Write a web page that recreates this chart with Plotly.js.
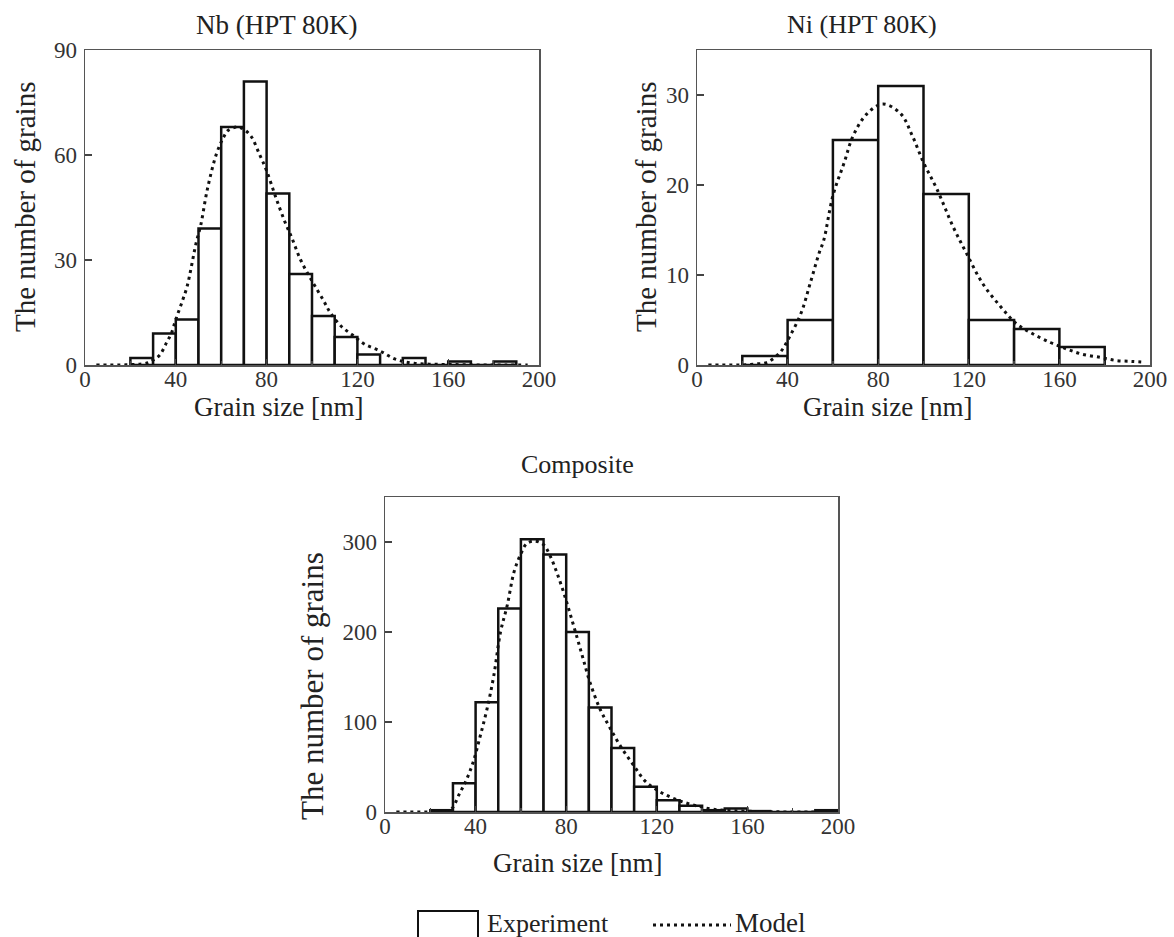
<!DOCTYPE html>
<html>
<head>
<meta charset="utf-8">
<script src="https://cdn.plot.ly/plotly-3.0.1.min.js"></script>
<style>html,body{margin:0;padding:0;background:#fff}#chart{width:1174px;height:937px}</style>
</head>
<body>
<div id="chart"></div>
<script>
// ---------- data ----------
const nbBinStart = [20,30,40,50,60,70,80,90,100,110,120,130,140,150,160,170,180];
const nbCounts   = [2,9,13,39,68,81,49,26,14,8,3,0,2,0,1,0,1];
const nbBinWidth = 10;
const nbModelX = [5,10,15,20,25,28,30,33,36,38,40,43,45,49,51,54,58,61,63,67,70,73,77,80,84,88,91,95,100,105,108,113,118,123,130,137,145,155,165,175,185,195];
const nbModelY = [0,0,0,0.1,0.3,0.7,1.4,2.9,6.5,9,13,18.5,22.5,35,40,50.5,60.5,65,67,68,67.3,65.5,60,55.5,48,41,36.5,30,24,18.5,15,11,8.5,6,4,1.6,0.5,0.2,0.1,0,0,0];

const niBinStart = [20,40,60,80,100,120,140,160];
const niCounts   = [1,5,25,31,19,5,4,2];
const niBinWidth = 20;
const niModelX = [5,10,15,20,25,31,37,41,46,50,54,56,60,65,69,75,82,90,95,100,106,113,119,126,134,141,148,156,163,170,178,185,192,198];
const niModelY = [0,0,0,0,0.1,0.3,1.5,3.2,5.8,9.1,12.5,13.9,18.8,22.5,25.5,27.9,29,27.9,25.5,22.5,19.5,15.4,12.4,9.1,6.5,4.6,3.5,2.5,1.8,1.2,0.85,0.5,0.4,0.3];

const coBinStart = [20,30,40,50,60,70,80,90,100,110,120,130,140,150,160,170,180,190];
const coCounts   = [2,32,122,226,303,286,200,116,71,28,13,7,2,4,1,0,0,2];
const coBinWidth = 10;
const coModelX = [5,10,15,20,25,29,33,36,39,42,45,48,51,54,57,60,62.5,66,70,73,76,79,82,85,87.5,90.5,95,99,104,110,115,121,127,133,139,145,154,167,180,195];
const coModelY = [0,0,0,0,0.5,2.5,21,36,56,84,114,151,200,230,267,287,298,301,297,284,265,243,218,192,170,144,114,95,73,51,34,23,15.5,10,6,3,1.3,0.5,0,0];

const titles = ["Nb (HPT 80K)", "Ni (HPT 80K)", "Composite"];
const xLabel = "Grain size [nm]";
const yLabel = "The number of grains";
const legendLabels = ["Experiment", "Model"];

// ---------- styling ----------
const FONT = '"Liberation Serif", "Times New Roman", serif';
const W = 1174, H = 937;
const px = v => v / W;
const py = v => 1 - v / H;

function barTrace(starts, counts, width, xa, ya) {
  return {
    type: 'bar', x: starts.map(s => s + width / 2), y: counts, width: width,
    marker: {color: '#fff', line: {color: '#111', width: 2.5}},
    xaxis: xa, yaxis: ya, showlegend: false, hoverinfo: 'x+y'
  };
}
function modelTrace(xs, ys, xa, ya) {
  return {
    type: 'scatter', mode: 'lines', x: xs, y: ys,
    line: {color: '#111', width: 3, dash: '3px,4px', shape: 'spline'},
    xaxis: xa, yaxis: ya, showlegend: false
  };
}

const data = [
  barTrace(nbBinStart, nbCounts, nbBinWidth, 'x', 'y'),
  modelTrace(nbModelX, nbModelY, 'x', 'y'),
  barTrace(niBinStart, niCounts, niBinWidth, 'x2', 'y2'),
  modelTrace(niModelX, niModelY, 'x2', 'y2'),
  barTrace(coBinStart, coCounts, coBinWidth, 'x3', 'y3'),
  modelTrace(coModelX, coModelY, 'x3', 'y3')
];

function xAxis(domain, anchor) {
  return {
    domain: domain, anchor: anchor, range: [0, 200], dtick: 40, tick0: 0,
    ticks: 'inside', ticklen: 6, tickwidth: 1.2, tickcolor: '#444',
    minor: {dtick: 20, ticks: 'inside', ticklen: 4, tickcolor: '#444'},
    showline: true, mirror: true, linecolor: '#555', linewidth: 1.5,
    showgrid: false, zeroline: false, fixedrange: true,
    tickfont: {family: FONT, size: 23, color: '#333'}, ticklabelstandoff: -7
  };
}
function yAxis(domain, anchor, max, dtick) {
  return {
    domain: domain, anchor: anchor, range: [0, max], dtick: dtick, tick0: 0,
    ticks: 'inside', ticklen: 7, tickwidth: 1.2, tickcolor: '#444',
    showline: true, mirror: true, linecolor: '#555', linewidth: 1.5,
    showgrid: false, zeroline: false, fixedrange: true,
    tickfont: {family: FONT, size: 23, color: '#333'}, ticklabelstandoff: 2
  };
}

const topY = [py(365), py(50)];
const botY = [py(812), py(497)];

function note(text, x, y, size, extra) {
  return Object.assign({
    text: text, x: px(x), y: py(y), xref: 'paper', yref: 'paper',
    xanchor: 'center', yanchor: 'middle', showarrow: false,
    font: {size: size, family: FONT, color: '#222'}
  }, extra || {});
}

const layout = {
  width: W, height: H, margin: {l: 0, r: 0, t: 0, b: 0},
  paper_bgcolor: '#fff', plot_bgcolor: '#fff', showlegend: false, bargap: 0,
  font: {family: FONT, color: '#222'},
  xaxis: xAxis([px(85), px(539)], 'y'),
  yaxis: yAxis(topY, 'x', 90, 30),
  xaxis2: xAxis([px(697), px(1150)], 'y2'),
  yaxis2: yAxis(topY, 'x2', 35, 10),
  xaxis3: xAxis([px(385), px(838)], 'y3'),
  yaxis3: yAxis(botY, 'x3', 350, 100),
  annotations: [
    note(titles[0], 277, 25, 27),
    note(titles[1], 862, 25, 26),
    note(titles[2], 577, 464, 26),
    note(xLabel, 278, 407, 27),
    note(xLabel, 887, 407, 27),
    note(xLabel, 577, 863, 27),
    note(yLabel, 25, 207, 29, {textangle: -90}),
    note(yLabel, 646, 207, 29, {textangle: -90}),
    note(yLabel, 312, 686, 31, {textangle: -90}),
    note(legendLabels[0], 485, 923, 26, {xanchor: 'left'}),
    note(legendLabels[1], 733, 923, 27, {xanchor: 'left'})
  ],
  shapes: [
    {type: 'rect', xref: 'paper', yref: 'paper', x0: px(418), x1: px(478), y0: py(945), y1: py(911), line: {color: '#111', width: 2}, fillcolor: '#fff'},
    {type: 'line', xref: 'paper', yref: 'paper', x0: px(653), x1: px(731), y0: py(925), y1: py(925), line: {color: '#111', width: 3, dash: '3px,4px'}}
  ]
};

Plotly.newPlot('chart', data, layout, {displayModeBar: false, staticPlot: true});
</script>
</body>
</html>
